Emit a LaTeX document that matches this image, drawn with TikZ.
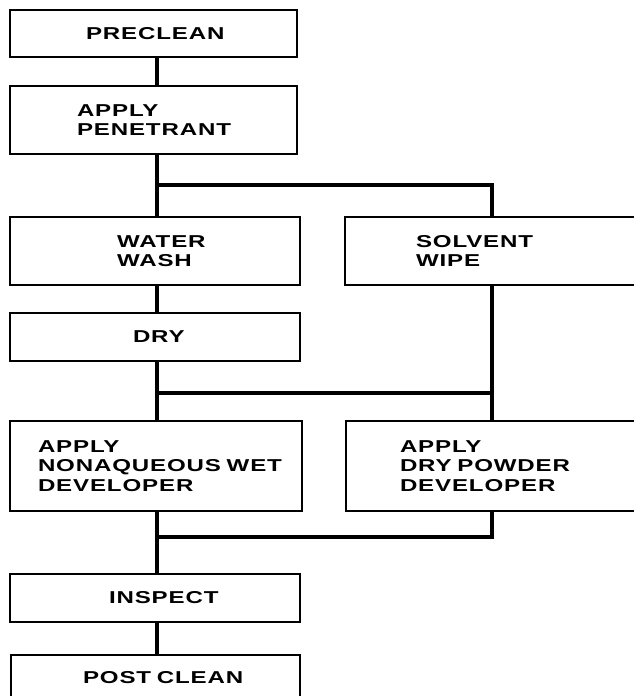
\documentclass[tikz,border=0pt]{standalone}
\usepackage{fontspec}
\newfontfamily\lblfont[FakeStretch=1.4,LetterSpace=5]{Liberation Sans Bold}
\begin{document}
\begin{tikzpicture}[x=1pt,y=-1pt,
  box/.style={draw, line width=2.2pt, rectangle, inner xsep=0pt, inner ysep=0pt,
    align=left, font=\lblfont\fontsize{17.2}{19.5}\selectfont},
  link/.style={line width=3.5pt}]
\useasboundingbox (0,0) rectangle (634,696);
\clip (0,0) rectangle (634,696);
\coordinate (L) at (157,0);
\coordinate (R) at (492,0);
\node[box, minimum width=287pt, minimum height=47pt, text width=135pt] (pre) at (153.5,33.5) {PRECLEAN};
\node[box, minimum width=287pt, minimum height=68pt, text width=153pt] (pen) at (153.5,120) {APPLY\\PENETRANT};
\node[box, minimum width=290pt, minimum height=68pt, text width=76pt] (wash) at (155,251) {WATER\\WASH};
\node[box, minimum width=295pt, minimum height=68pt, text width=153pt] (solv) at (492.5,251) {SOLVENT\\WIPE};
\node[box, minimum width=290pt, minimum height=48pt, text width=44pt] (dry) at (155,337) {DRY};
\node[box, minimum width=292pt, minimum height=90pt, text width=236pt] (wet) at (156,466) {APPLY\\NONAQUEOUS~WET\\DEVELOPER};
\node[box, minimum width=294pt, minimum height=90pt, text width=186pt] (powd) at (493,466) {APPLY\\DRY~POWDER\\DEVELOPER};
\node[box, minimum width=290pt, minimum height=48pt, text width=92pt] (insp) at (155,598) {INSPECT};
\node[box, minimum width=289pt, minimum height=45pt, text width=145pt] (post) at (155.5,677.5) {POST~CLEAN};
\coordinate (s1) at (157,185);
\coordinate (m1) at (157,393);
\coordinate (m2) at (157,537);
\draw[link] (pre.south -| L) -- (pen.north -| L);
\draw[link] (pen.south -| L) -- (wash.north -| L);
\draw[link] (s1) -- (s1 -| R) -- (solv.north -| R);
\draw[link] (wash.south -| L) -- (dry.north -| L);
\draw[link] (dry.south -| L) -- (wet.north -| L);
\draw[link] (solv.south -| R) -- (powd.north -| R);
\draw[link] (m1) -- (m1 -| R);
\draw[link] (wet.south -| L) -- (insp.north -| L);
\draw[link] (powd.south -| R) |- (m2);
\draw[link] (insp.south -| L) -- (post.north -| L);
\end{tikzpicture}
\end{document}
